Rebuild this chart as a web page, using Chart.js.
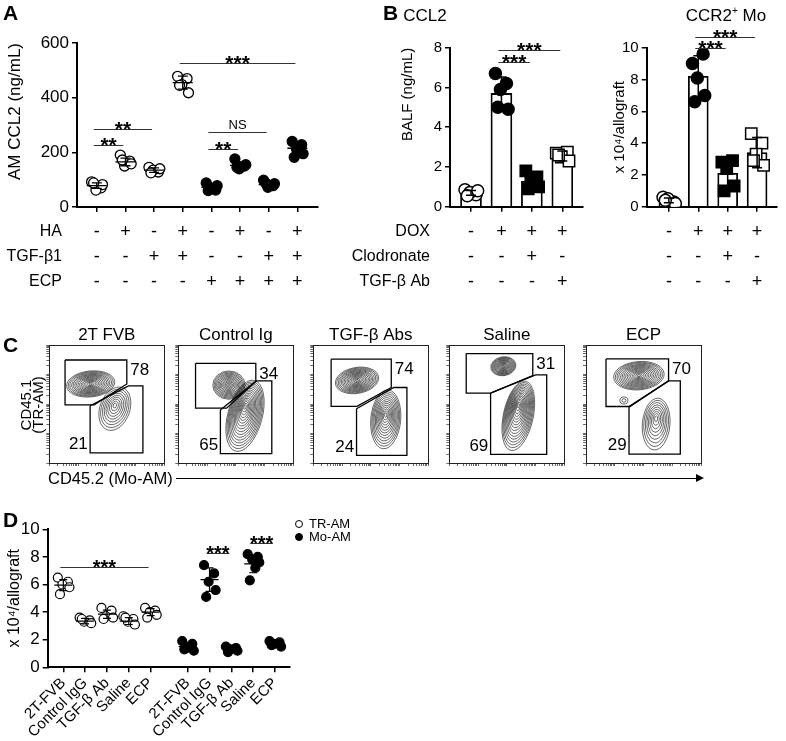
<!DOCTYPE html>
<html>
<head>
<meta charset="utf-8">
<script src="https://cdn.jsdelivr.net/npm/chart.js@4"></script>
<style>
body { margin: 0; background: #fff; font-family: 'Liberation Sans', Arial, sans-serif; }
#wrap { position: relative; width: 786px; height: 741px; overflow: hidden; }
canvas { position: absolute; left: 0; top: 0; }
.t { position: absolute; white-space: nowrap; color: #000; line-height: 1; }
.let { font-weight: bold; font-size: 21px; }
.mid { transform: translate(-50%, -50%); }
.rot { transform: translate(-50%, -50%) rotate(-90deg); }
</style>
</head>
<body>
<div id="wrap">
  <canvas id="cA" width="786" height="741"></canvas>
  <canvas id="cB1" width="786" height="741"></canvas>
  <canvas id="cB2" width="786" height="741"></canvas>
  <canvas id="cC0" width="786" height="741"></canvas>
  <canvas id="cC1" width="786" height="741"></canvas>
  <canvas id="cC2" width="786" height="741"></canvas>
  <canvas id="cC3" width="786" height="741"></canvas>
  <canvas id="cC4" width="786" height="741"></canvas>
  <canvas id="cD" width="786" height="741"></canvas>

  <div class="t let" style="left:3px;top:2px">A</div>
  <div class="t let" style="left:383px;top:2px">B</div>
  <div class="t let" style="left:3px;top:334px">C</div>
  <div class="t let" style="left:3px;top:509px">D</div>

  <div class="t mid" style="left:425px;top:15px;font-size:17px">CCL2</div>
  <div class="t mid" style="left:726px;top:15px;font-size:17px">CCR2<sup style="font-size:10px">+</sup> Mo</div>

  <div class="t rot" style="left:25px;top:405px;font-size:15px">CD45.1</div>
  <div class="t rot" style="left:37px;top:405px;font-size:15px">(TR-AM)</div>
  <div class="t" style="left:48px;top:470px;font-size:16.5px">CD45.2 (Mo-AM)</div>
  <div style="position:absolute;left:176px;top:478px;width:520px;border-top:1px solid #000"></div>
  <div style="position:absolute;left:696px;top:474px;width:0;height:0;border-left:8px solid #000;border-top:4.5px solid transparent;border-bottom:4.5px solid transparent"></div>
  <div id="cTitles"></div>
</div>

<script>
Chart.defaults.font.family = "'Liberation Sans', Arial, sans-serif";
Chart.defaults.color = '#000';
const FONT = "'Liberation Sans', Arial, sans-serif";

// ---------- A : AM CCL2 ----------
const aHA  = ['-', '+', '-', '+', '-', '+', '-', '+'];
const aTGF = ['-', '-', '+', '+', '-', '-', '+', '+'];
const aECP = ['-', '-', '-', '-', '+', '+', '+', '+'];
const aG1 = [92, 70, 62, 82, 88];
const aG2 = [190, 168, 150, 158, 172];
const aG3 = [145, 128, 135, 140, 125];
const aG4 = [478, 470, 448, 418, 445];
const aG5 = [88, 62, 70, 78, 60];
const aG6 = [176, 150, 140, 155, 145];
const aG7 = [98, 78, 72, 85, 88];
const aG8 = [240, 228, 212, 195, 182];
const aMean = [78, 165, 135, 455, 72, 152, 82, 215];
const aSD = [10, 14, 8, 24, 10, 13, 8, 21];
const aTicks = [0, 200, 400, 600];
const aSig = [
  {from: 0, to: 1, y: 226, t: '**'},
  {from: 0, to: 2, y: 285, t: '**'},
  {from: 3, to: 7, y: 528, t: '***'},
  {from: 4, to: 6, y: 273, t: 'NS'},
  {from: 4, to: 5, y: 214, t: '**'}
];

// ---------- B : CCL2 / CCR2+ Mo ----------
const bDOX = ['-', '+', '+', '+'];
const bClo = ['-', '-', '+', '-'];
const bTGF = ['-', '-', '-', '+'];
const b1Pts = [[0.85, 0.6, 0.72, 0.8, 0.55], [6.7, 6.2, 5.9, 4.9, 5.0], [1.8, 1.5, 1.3, 1.0, 0.9], [2.7, 2.75, 2.5, 2.3, 2.6]];
const b1Mean = [0.7, 5.7, 1.28, 2.55];
const b1SD = [0.12, 0.82, 0.35, 0.25];
const b1Sig = [{from: 1, to: 3, y: 7.87, t: '***'}, {from: 1, to: 2, y: 7.29, t: '***'}];
const b2Pts = [[0.6, 0.3, 0.5, 0.2, 0.4], [9.0, 9.6, 8.1, 7.0, 6.6], [2.8, 2.9, 2.4, 1.3, 1.0], [4.6, 4.0, 3.3, 2.6, 2.9]];
const b2Mean = [0.4, 8.2, 2.1, 3.4];
const b2SD = [0.15, 1.3, 0.8, 0.95];
const b2Sig = [{from: 1, to: 3, y: 10.7, t: '***'}, {from: 1, to: 2, y: 10.0, t: '***'}];

// ---------- C : flow plots ----------
const cTitles = ['2T FVB', 'Control Ig', 'TGF-β Abs', 'Saline', 'ECP'];
const cTR = [78, 34, 74, 31, 70];
const cMo = [21, 65, 24, 69, 29];
const cGateTR = [
  [[13.7, 87.3], [67.4, 87.3], [67.4, 67], [39, 49.3], [13.7, 49.3]],
  [[15, 84.5], [67.4, 84.5], [67.4, 69], [42, 46.5], [15, 46.5]],
  [[15.5, 88], [67.8, 88], [67.8, 64], [38, 48], [15.5, 48]],
  [[14.7, 92.7], [72.6, 92.7], [72.6, 74], [35.9, 59.3], [14.7, 59.3]],
  [[17.4, 88.2], [71.8, 88.2], [71.8, 69.6], [38.2, 47.9], [17.4, 47.9]]
];
const cGateMo = [
  [[35.5, 48.5], [35.5, 8.5], [81.4, 8.5], [81.4, 65.4], [68.9, 65.4]],
  [[36.6, 45], [36.6, 8], [81.3, 8], [81.3, 69.6], [67.7, 69.6]],
  [[37.6, 46], [37.6, 6.4], [81.4, 6.4], [81.4, 64], [70, 64]],
  [[35.9, 59.3], [35.9, 7.3], [84.7, 7.3], [84.7, 74.7], [75, 74.7]],
  [[37.4, 47.9], [37.4, 7.6], [82, 7.6], [82, 69.6], [71.8, 69.6]]
];
// population centres / spreads seen in the contours
const cPops = [
  [{cx: 36, cy: 67, rx: 21, ry: 11, rot: 6, n: 15}, {cx: 57, cy: 46, rx: 13, ry: 19, rot: -20, n: 9, sy: 3}],
  [{cx: 44, cy: 66, rx: 14, ry: 12, rot: 0, n: 13}, {cx: 58, cy: 40, rx: 15, ry: 31, rot: -15, n: 16, sy: 8}],
  [{cx: 38, cy: 70, rx: 19, ry: 11, rot: 10, n: 15}, {cx: 63, cy: 37, rx: 13, ry: 25, rot: -5, n: 13, sy: 4}],
  [{cx: 47, cy: 82, rx: 11, ry: 8, rot: 10, n: 13}, {cx: 60, cy: 40, rx: 13, ry: 30, rot: -12, n: 16, sy: 9}],
  [{cx: 46, cy: 74, rx: 22, ry: 12, rot: 5, n: 15}, {cx: 61, cy: 33, rx: 12, ry: 22, rot: -5, n: 9, sy: 5}, {cx: 33, cy: 53, rx: 3.5, ry: 3, rot: 0, n: 2}]
];

// ---------- D : TR-AM / Mo-AM ----------
const dLabels = ['2T-FVB', 'Control IgG', 'TGF-β Ab', 'Saline', 'ECP', '2T-FVB', 'Control IgG', 'TGF-β Ab', 'Saline', 'ECP'];
const dTR = [[6.5, 6.2, 6.0, 5.8, 5.3], [3.6, 3.4, 3.3, 3.2, 3.5], [4.3, 4.1, 3.7, 3.6, 3.5], [3.7, 3.5, 3.3, 3.1, 3.6], [4.3, 4.1, 4.0, 3.8, 3.6]];
const dTRMean = [5.95, 3.35, 3.85, 3.35, 4.0];
const dTRSD = [0.4, 0.2, 0.3, 0.25, 0.25];
const dMo = [[1.9, 1.7, 1.4, 1.2, 1.3], [7.4, 6.8, 6.2, 5.6, 5.1], [1.5, 1.4, 1.3, 1.2, 1.1], [8.2, 8.0, 7.8, 7.6, 6.3, 7.2], [1.9, 1.8, 1.7, 1.5, 1.6]];
const dMoMean = [1.5, 6.35, 1.3, 7.5, 1.7];
const dMoSD = [0.3, 0.85, 0.15, 0.65, 0.15];
const dSig = [{from: 0, to: 4, y: 7.29, t: '***'}, {from: 6, to: 7, y: 8.26, t: '***'}, {from: 8, to: 9, y: 9.03, t: '***'}];

// ---------- layout helpers ----------
const JIT = [-0.9, 0.75, -0.15, 1.0, -0.55, 0.35];
const aPos = [0, 1, 2, 3, 4, 5, 6, 7];
const bPos = [0, 1, 2, 3];
const dPos = [0, 1, 2, 3, 4, 5.7, 6.7, 7.7, 8.7, 9.7];

function dotData(groups, pos, spread) {
  const out = [];
  groups.forEach((g, i) => g.forEach((v, k) => out.push({x: pos[i] + JIT[k % JIT.length] * spread, y: v})));
  return out;
}

function yAxis(o) {
  return {
    min: o.min, max: o.max,
    ticks: {stepSize: o.step, font: {size: o.size}, padding: 3, color: '#000'},
    grid: {drawOnChartArea: false, drawTicks: true, tickLength: 5, color: '#000', lineWidth: 1.5},
    border: {display: true, color: '#000', width: 2},
    title: {display: true, text: o.title, font: {size: o.tsize}, padding: 0, align: o.align || 'center', color: '#000'},
    afterFit(s) { s.width = o.width; }
  };
}

function xAxis(min, max, pos, height, labels) {
  return {
    type: 'linear', min: min, max: max, bounds: 'data', offset: false,
    afterBuildTicks(s) { s.ticks = pos.map(v => ({value: v})); },
    ticks: labels ? {
      display: true, autoSkip: false, minRotation: 45, maxRotation: 45, padding: 2,
      font: {size: 15}, color: '#000', callback: (v, i) => labels[i]
    } : {display: false},
    grid: {drawOnChartArea: false, drawTicks: true, tickLength: 5, color: '#000', lineWidth: 1.5, offset: false},
    border: {display: true, color: '#000', width: 2},
    afterFit(s) { s.height = height; }
  };
}

function statsPlugin(pos, means, sds, o) {
  return {
    id: 'stats',
    afterDatasetsDraw(chart) {
      const {ctx, scales: {x, y}} = chart;
      ctx.save();
      ctx.strokeStyle = '#000';
      ctx.lineWidth = o.lw;
      means.forEach((m, i) => {
        const px = x.getPixelForValue(pos[i]);
        const pm = y.getPixelForValue(m);
        const pt = y.getPixelForValue(m + sds[i]);
        const pb = y.getPixelForValue(m - sds[i]);
        ctx.beginPath();
        if (o.meanW) { ctx.moveTo(px - o.meanW, pm); ctx.lineTo(px + o.meanW, pm); }
        ctx.moveTo(px, pt); ctx.lineTo(px, pb);
        ctx.moveTo(px - o.capW, pt); ctx.lineTo(px + o.capW, pt);
        ctx.moveTo(px - o.capW, pb); ctx.lineTo(px + o.capW, pb);
        ctx.stroke();
      });
      ctx.restore();
    }
  };
}

function sigPlugin(pos, list, starPx) {
  return {
    id: 'sig',
    afterDatasetsDraw(chart) {
      const {ctx, scales: {x, y}} = chart;
      ctx.save();
      ctx.strokeStyle = '#333';
      ctx.lineWidth = 1;
      ctx.fillStyle = '#000';
      ctx.textAlign = 'center';
      ctx.textBaseline = 'alphabetic';
      list.forEach(s => {
        const x1 = x.getPixelForValue(pos[s.from]) - 3;
        const x2 = x.getPixelForValue(pos[s.to]) - 2;
        const py = Math.round(y.getPixelForValue(s.y)) + 0.5;
        ctx.beginPath(); ctx.moveTo(x1, py); ctx.lineTo(x2, py); ctx.stroke();
        if (s.t.indexOf('*') >= 0) {
          ctx.font = 'bold ' + starPx + 'px ' + FONT;
          ctx.fillText(s.t, (x1 + x2) / 2, py + 6);
        } else {
          ctx.font = '13px ' + FONT;
          ctx.fillText(s.t, (x1 + x2) / 2, py - 4);
        }
      });
      ctx.restore();
    }
  };
}

function rowsPlugin(pos, rows, rowY, labelX, signPx, labelPx) {
  return {
    id: 'rows',
    afterDraw(chart) {
      const {ctx, scales: {x}} = chart;
      ctx.save();
      ctx.fillStyle = '#000';
      ctx.textBaseline = 'middle';
      rows.forEach((r, k) => {
        if (r.label) {
          ctx.font = labelPx + 'px ' + FONT;
          ctx.textAlign = 'right';
          ctx.fillText(r.label, labelX, rowY[k]);
        }
        ctx.font = signPx + 'px ' + FONT;
        ctx.textAlign = 'center';
        r.signs.forEach((s, i) => ctx.fillText(s, x.getPixelForValue(pos[i]), rowY[k]));
      });
      ctx.restore();
    }
  };
}

const ROWS_Y = [232, 257, 282];
const base = {responsive: false, animation: false, devicePixelRatio: 1};
const noPlug = {legend: {display: false}, tooltip: {enabled: false}};

// ---------- A ----------
new Chart(document.getElementById('cA'), {
  type: 'scatter',
  data: {datasets: [
    {data: dotData([aG1, aG2, aG3, aG4], aPos.slice(0, 4), 0.2), pointRadius: 5,
     pointBackgroundColor: '#fff', pointBorderColor: '#000', pointBorderWidth: 1.3},
    {data: dotData([aG5, aG6, aG7, aG8], aPos.slice(4), 0.2), pointRadius: 5,
     pointBackgroundColor: '#000', pointBorderColor: '#000', pointBorderWidth: 1.3}
  ]},
  options: Object.assign({}, base, {
    layout: {padding: {left: 5, top: 43, right: 468, bottom: 528}},
    scales: {
      x: xAxis(-0.69, 7.72, aPos, 6),
      y: Object.assign(yAxis({min: 0, max: 600, step: 200, size: 17, title: 'AM CCL2 (ng/mL)', tsize: 17, align: 'end', width: 72}),
        {afterBuildTicks(s) { s.ticks = aTicks.map(v => ({value: v})); }})
    },
    plugins: noPlug
  }),
  plugins: [
    statsPlugin(aPos, aMean, aSD, {meanW: 10, capW: 5, lw: 1.3}),
    sigPlugin(aPos, aSig, 21),
    rowsPlugin(aPos, [{label: 'HA', signs: aHA}, {label: 'TGF-β1', signs: aTGF}, {label: 'ECP', signs: aECP}], ROWS_Y, 62, 18, 16)
  ]
});

// ---------- B ----------
const bStyles = [
  {pointStyle: 'circle', pointRadius: 6, pointBackgroundColor: '#fff'},
  {pointStyle: 'circle', pointRadius: 6, pointBackgroundColor: '#000'},
  {pointStyle: 'rect', pointRadius: 8, pointBackgroundColor: '#000'},
  {pointStyle: 'rect', pointRadius: 8, pointBackgroundColor: '#fff'}
];

function bChart(id, pts, means, sds, sig, o) {
  const ds = [{
    type: 'bar', order: 2,
    data: means.map((m, i) => ({x: bPos[i], y: m})),
    backgroundColor: '#fff', borderColor: '#000', borderWidth: 1.8, barThickness: o.barW
  }];
  pts.forEach((g, i) => ds.push(Object.assign({
    type: 'scatter', order: 1,
    data: g.map((v, k) => ({x: bPos[i] + JIT[k] * 0.22, y: v})),
    pointBorderColor: '#000', pointBorderWidth: 1.5
  }, bStyles[i])));
  new Chart(document.getElementById(id), {
    type: 'bar',
    data: {datasets: ds},
    options: Object.assign({}, base, {
      layout: {padding: {left: o.padL, top: 47.7, right: o.padR, bottom: 528.3}},
      scales: {
        x: xAxis(o.xmin, o.xmax, bPos, 6),
        y: yAxis({min: 0, max: o.max, step: 2, size: 15, title: o.title, tsize: 15, align: o.align, width: o.w})
      },
      plugins: noPlug
    }),
    plugins: [
      statsPlugin(bPos, means, sds, {meanW: 0, capW: 5, lw: 1.5}),
      sigPlugin(bPos, sig, 21),
      rowsPlugin(bPos, [{label: o.rows ? 'DOX' : '', signs: bDOX}, {label: o.rows ? 'Clodronate' : '', signs: bClo}, {label: o.rows ? 'TGF-β Ab' : '', signs: bTGF}], ROWS_Y, 430, 18, 16)
    ]
  });
}
bChart('cB1', b1Pts, b1Mean, b1SD, b1Sig, {padL: 399, w: 51, padR: 203.3, xmin: -0.69, xmax: 3.67, max: 8, title: 'BALF (ng/mL)', align: 'end', barW: 21, rows: true});
bChart('cB2', b2Pts, b2Mean, b2SD, b2Sig, {padL: 611, w: 35.7, padR: 3, xmin: -0.754, xmax: 3.66, max: 10, title: 'x 10⁴/allograft', align: 'center', barW: 20, rows: false});

// ---------- C ----------
const FLOW_TICKS = [];
for (let d = 0; d < 4; d++) for (let k = 1; k < 10; k++) FLOW_TICKS.push(d * 25 + 25 * Math.log10(k));
FLOW_TICKS.push(100);
const boxLeft = [49.3, 178.3, 313.3, 449.3, 586];
const boxTop = 345, boxW = 115, boxH = 118;

function flowAxis(horizontal) {
  return {
    type: 'linear', min: 0, max: 100, bounds: 'data',
    afterBuildTicks(s) { s.ticks = FLOW_TICKS.map(v => ({value: v})); },
    ticks: {display: false},
    grid: {drawOnChartArea: false, drawTicks: true, tickLength: 3, color: '#444', lineWidth: 0.8},
    border: {display: false},
    afterFit(s) { if (horizontal) s.height = 3; else s.width = 3; }
  };
}

const flowPlugin = {
  id: 'flow',
  beforeDatasetsDraw(chart, args, opts) {
    const {ctx, scales: {x, y}} = chart;
    const kx = x.width / 100, ky = y.height / 100;
    ctx.save();
    ctx.strokeStyle = 'rgba(0,0,0,0.85)';
    ctx.lineWidth = 0.7;
    opts.pops.forEach(p => {
      for (let k = 1; k <= p.n; k++) {
        const s = k / p.n;
        const cx = x.getPixelForValue(p.cx + (p.sx || 0) * (1 - s));
        const cy = y.getPixelForValue(p.cy + (p.sy || 0) * (1 - s));
        ctx.beginPath();
        ctx.ellipse(cx, cy, p.rx * s * kx, p.ry * s * ky, -p.rot * Math.PI / 180, 0, Math.PI * 2);
        ctx.stroke();
      }
    });
    ctx.restore();
  },
  afterDraw(chart, args, opts) {
    const {ctx, chartArea: a, scales: {x, y}} = chart;
    ctx.save();
    ctx.strokeStyle = '#222';
    ctx.lineWidth = 1;
    ctx.strokeRect(Math.round(a.left) + 0.5, Math.round(a.top) + 0.5, Math.round(a.width), Math.round(a.height));
    ctx.fillStyle = '#000';
    ctx.font = '17px ' + FONT;
    ctx.textBaseline = 'middle';
    const tr = opts.gTR, mo = opts.gMo;
    const trX = Math.max.apply(null, tr.map(p => p[0])), trY = Math.max.apply(null, tr.map(p => p[1]));
    const moX = Math.min.apply(null, mo.map(p => p[0])), moY = Math.min.apply(null, mo.map(p => p[1]));
    ctx.textAlign = 'left';
    ctx.fillText(String(opts.tr), x.getPixelForValue(trX + 3), y.getPixelForValue(trY - 9));
    ctx.textAlign = 'right';
    ctx.fillText(String(opts.mo), x.getPixelForValue(moX - 2), y.getPixelForValue(moY + 7));
    ctx.restore();
  }
};

function gateSet(g) {
  return {
    data: g.concat([g[0]]).map(p => ({x: p[0], y: p[1]})),
    showLine: true, pointRadius: 0, borderColor: '#000', borderWidth: 1.3, tension: 0, fill: false
  };
}

cTitles.forEach((t, i) => {
  const d = document.createElement('div');
  d.className = 't mid';
  d.style.left = (boxLeft[i] + boxW / 2) + 'px';
  d.style.top = '334px';
  d.style.fontSize = '17px';
  d.textContent = t;
  document.getElementById('cTitles').appendChild(d);

  new Chart(document.getElementById('cC' + i), {
    type: 'scatter',
    data: {datasets: [gateSet(cGateTR[i]), gateSet(cGateMo[i])]},
    options: Object.assign({}, base, {
      layout: {padding: {left: boxLeft[i] - 3, top: boxTop, right: 786 - boxLeft[i] - boxW, bottom: 741 - boxTop - boxH - 3}},
      scales: {x: flowAxis(true), y: flowAxis(false)},
      plugins: Object.assign({}, noPlug, {flow: {pops: cPops[i], tr: cTR[i], mo: cMo[i], gTR: cGateTR[i], gMo: cGateMo[i]}})
    }),
    plugins: [flowPlugin]
  });
});

// ---------- D ----------
const legendPlugin = {
  id: 'dLegend',
  afterDraw(chart) {
    const ctx = chart.ctx;
    ctx.save();
    ctx.font = '13px ' + FONT;
    ctx.textAlign = 'left';
    ctx.textBaseline = 'middle';
    chart.data.datasets.forEach((ds, i) => {
      const yy = 524 + i * 13;
      ctx.beginPath();
      ctx.arc(299, yy, 3.5, 0, Math.PI * 2);
      ctx.fillStyle = ds.pointBackgroundColor;
      ctx.fill();
      ctx.lineWidth = 1;
      ctx.strokeStyle = '#000';
      ctx.stroke();
      ctx.fillStyle = '#000';
      ctx.fillText(ds.label, 309, yy);
    });
    ctx.restore();
  }
};

new Chart(document.getElementById('cD'), {
  type: 'scatter',
  data: {datasets: [
    {label: 'TR-AM', data: dotData(dTR, dPos.slice(0, 5), 0.28), pointRadius: 4.5,
     pointBackgroundColor: '#fff', pointBorderColor: '#000', pointBorderWidth: 1.2},
    {label: 'Mo-AM', data: dotData(dMo, dPos.slice(5), 0.28), pointRadius: 4.5,
     pointBackgroundColor: '#000', pointBorderColor: '#000', pointBorderWidth: 1.2}
  ]},
  options: Object.assign({}, base, {
    layout: {padding: {left: 5.4, top: 529.3, right: 496.7, bottom: 3.7}},
    scales: {
      x: xAxis(-0.715, 10.355, dPos, 70, dLabels),
      y: yAxis({min: 0, max: 10, step: 2, size: 17, title: 'x 10⁴/allograft', tsize: 16, align: 'center', width: 42.3})
    },
    plugins: noPlug
  }),
  plugins: [
    statsPlugin(dPos, dTRMean.concat(dMoMean), dTRSD.concat(dMoSD), {meanW: 9, capW: 4, lw: 1.2}),
    sigPlugin(dPos, dSig, 20),
    legendPlugin
  ]
});
</script>
</body>
</html>
